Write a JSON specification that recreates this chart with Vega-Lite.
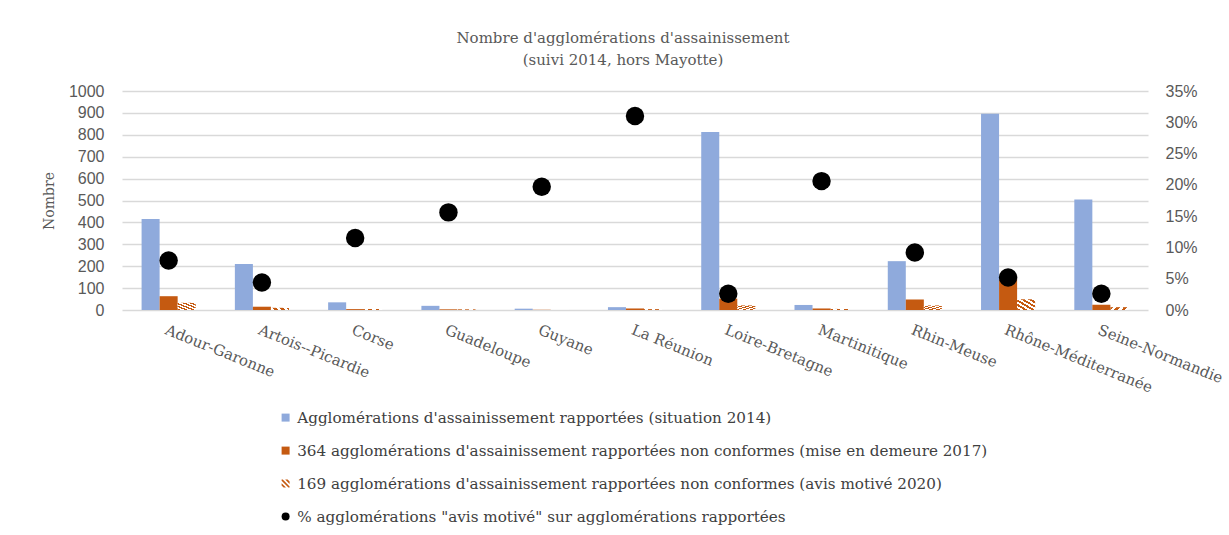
{
  "$schema": "https://vega.github.io/schema/vega-lite/v6.json",
  "width": 1026,
  "height": 219,
  "autosize": {"type": "none"},
  "padding": {"left": 122, "top": 91, "right": 81, "bottom": 225},
  "background": "white",
  "title": {
    "text": ["Nombre d'agglomérations d'assainissement", "(suivi 2014, hors Mayotte)"],
    "anchor": "middle",
    "frame": "group",
    "dx": -12,
    "offset": 15,
    "font": "DejaVu Serif",
    "fontSize": 15,
    "fontWeight": "normal",
    "color": "#595959",
    "lineHeight": 22
  },
  "datasets": {
    "bars": [
      {"region": "Adour-Garonne", "series": "Agglomérations d'assainissement rapportées (situation 2014)", "value": 415},
      {"region": "Adour-Garonne", "series": "364 agglomérations d'assainissement rapportées non conformes (mise en demeure 2017)", "value": 63},
      {"region": "Adour-Garonne", "series": "169 agglomérations d'assainissement rapportées non conformes (avis motivé 2020)", "value": 33},
      {"region": "Artois--Picardie", "series": "Agglomérations d'assainissement rapportées (situation 2014)", "value": 210},
      {"region": "Artois--Picardie", "series": "364 agglomérations d'assainissement rapportées non conformes (mise en demeure 2017)", "value": 15},
      {"region": "Artois--Picardie", "series": "169 agglomérations d'assainissement rapportées non conformes (avis motivé 2020)", "value": 10},
      {"region": "Corse", "series": "Agglomérations d'assainissement rapportées (situation 2014)", "value": 35},
      {"region": "Corse", "series": "364 agglomérations d'assainissement rapportées non conformes (mise en demeure 2017)", "value": 4},
      {"region": "Corse", "series": "169 agglomérations d'assainissement rapportées non conformes (avis motivé 2020)", "value": 4},
      {"region": "Guadeloupe", "series": "Agglomérations d'assainissement rapportées (situation 2014)", "value": 19},
      {"region": "Guadeloupe", "series": "364 agglomérations d'assainissement rapportées non conformes (mise en demeure 2017)", "value": 3},
      {"region": "Guadeloupe", "series": "169 agglomérations d'assainissement rapportées non conformes (avis motivé 2020)", "value": 3},
      {"region": "Guyane", "series": "Agglomérations d'assainissement rapportées (situation 2014)", "value": 6},
      {"region": "Guyane", "series": "364 agglomérations d'assainissement rapportées non conformes (mise en demeure 2017)", "value": 1},
      {"region": "Guyane", "series": "169 agglomérations d'assainissement rapportées non conformes (avis motivé 2020)", "value": 1},
      {"region": "La Réunion", "series": "Agglomérations d'assainissement rapportées (situation 2014)", "value": 13},
      {"region": "La Réunion", "series": "364 agglomérations d'assainissement rapportées non conformes (mise en demeure 2017)", "value": 7},
      {"region": "La Réunion", "series": "169 agglomérations d'assainissement rapportées non conformes (avis motivé 2020)", "value": 4},
      {"region": "Loire-Bretagne", "series": "Agglomérations d'assainissement rapportées (situation 2014)", "value": 813},
      {"region": "Loire-Bretagne", "series": "364 agglomérations d'assainissement rapportées non conformes (mise en demeure 2017)", "value": 52},
      {"region": "Loire-Bretagne", "series": "169 agglomérations d'assainissement rapportées non conformes (avis motivé 2020)", "value": 21},
      {"region": "Martinitique", "series": "Agglomérations d'assainissement rapportées (situation 2014)", "value": 23},
      {"region": "Martinitique", "series": "364 agglomérations d'assainissement rapportées non conformes (mise en demeure 2017)", "value": 7},
      {"region": "Martinitique", "series": "169 agglomérations d'assainissement rapportées non conformes (avis motivé 2020)", "value": 5},
      {"region": "Rhin-Meuse", "series": "Agglomérations d'assainissement rapportées (situation 2014)", "value": 223},
      {"region": "Rhin-Meuse", "series": "364 agglomérations d'assainissement rapportées non conformes (mise en demeure 2017)", "value": 48},
      {"region": "Rhin-Meuse", "series": "169 agglomérations d'assainissement rapportées non conformes (avis motivé 2020)", "value": 21},
      {"region": "Rhône-Méditerranée", "series": "Agglomérations d'assainissement rapportées (situation 2014)", "value": 896},
      {"region": "Rhône-Méditerranée", "series": "364 agglomérations d'assainissement rapportées non conformes (mise en demeure 2017)", "value": 140},
      {"region": "Rhône-Méditerranée", "series": "169 agglomérations d'assainissement rapportées non conformes (avis motivé 2020)", "value": 49},
      {"region": "Seine-Normandie", "series": "Agglomérations d'assainissement rapportées (situation 2014)", "value": 505},
      {"region": "Seine-Normandie", "series": "364 agglomérations d'assainissement rapportées non conformes (mise en demeure 2017)", "value": 24},
      {"region": "Seine-Normandie", "series": "169 agglomérations d'assainissement rapportées non conformes (avis motivé 2020)", "value": 13}
    ],
    "pcts": [
      {"region": "Adour-Garonne", "series": "% agglomérations \"avis motivé\" sur agglomérations rapportées", "pct": 0.079},
      {"region": "Artois--Picardie", "series": "% agglomérations \"avis motivé\" sur agglomérations rapportées", "pct": 0.044},
      {"region": "Corse", "series": "% agglomérations \"avis motivé\" sur agglomérations rapportées", "pct": 0.115},
      {"region": "Guadeloupe", "series": "% agglomérations \"avis motivé\" sur agglomérations rapportées", "pct": 0.156},
      {"region": "Guyane", "series": "% agglomérations \"avis motivé\" sur agglomérations rapportées", "pct": 0.197},
      {"region": "La Réunion", "series": "% agglomérations \"avis motivé\" sur agglomérations rapportées", "pct": 0.31},
      {"region": "Loire-Bretagne", "series": "% agglomérations \"avis motivé\" sur agglomérations rapportées", "pct": 0.026},
      {"region": "Martinitique", "series": "% agglomérations \"avis motivé\" sur agglomérations rapportées", "pct": 0.206},
      {"region": "Rhin-Meuse", "series": "% agglomérations \"avis motivé\" sur agglomérations rapportées", "pct": 0.092},
      {"region": "Rhône-Méditerranée", "series": "% agglomérations \"avis motivé\" sur agglomérations rapportées", "pct": 0.052},
      {"region": "Seine-Normandie", "series": "% agglomérations \"avis motivé\" sur agglomérations rapportées", "pct": 0.026}
    ]
  },
  "layer": [
    {
      "data": {"name": "bars"},
      "transform": [{"filter": "indexof(datum.series, '169') !== 0"}],
      "mark": {"type": "bar"},
      "encoding": {
        "x": {
          "field": "region", "type": "nominal", "sort": null,
          "scale": {"paddingInner": 0.42, "paddingOuter": 0.21},
          "axis": {
            "title": null, "labelAngle": 22, "labelAlign": "left", "labelBaseline": "top",
            "labelPadding": 12, "ticks": false, "domain": false,
            "labelFont": "DejaVu Serif", "labelFontSize": 15, "labelColor": "#595959"
          }
        },
        "xOffset": {
          "field": "series", "type": "nominal",
          "scale": {
            "domain": [
              "Agglomérations d'assainissement rapportées (situation 2014)",
              "364 agglomérations d'assainissement rapportées non conformes (mise en demeure 2017)",
              "169 agglomérations d'assainissement rapportées non conformes (avis motivé 2020)"
            ],
            "paddingInner": 0, "paddingOuter": 0
          }
        },
        "y": {
          "field": "value", "type": "quantitative",
          "scale": {"domain": [0, 1000], "nice": false},
          "axis": {
            "title": "Nombre", "values": [0, 100, 200, 300, 400, 500, 600, 700, 800, 900, 1000],
            "format": "d",
            "grid": true, "gridColor": "#d9d9d9", "gridWidth": 1.5, "domain": false, "ticks": false,
            "labelPadding": 18, "labelFont": "Liberation Sans", "labelFontSize": 16, "labelColor": "#595959",
            "titleFont": "DejaVu Serif", "titleFontSize": 14, "titleFontWeight": "normal",
            "titleColor": "#595959", "titlePadding": 12
          }
        },
        "color": {
          "field": "series", "type": "nominal",
          "scale": {
            "domain": [
              "Agglomérations d'assainissement rapportées (situation 2014)",
              "364 agglomérations d'assainissement rapportées non conformes (mise en demeure 2017)",
              "169 agglomérations d'assainissement rapportées non conformes (avis motivé 2020)",
              "% agglomérations \"avis motivé\" sur agglomérations rapportées"
            ],
            "range": ["#8faadc", "#c55a11", "#c55a11", "#000000"]
          },
          "legend": {
            "title": null, "orient": "none", "legendX": 156, "legendY": 319, "direction": "vertical",
            "labelFont": "DejaVu Serif", "labelFontSize": 15.2, "labelColor": "#404040",
            "symbolSize": 64, "symbolOpacity": 1, "rowPadding": 17, "labelOffset": 4, "labelLimit": 900
          }
        }
      }
    },
    {
      "data": {"name": "bars"},
      "transform": [{"filter": "indexof(datum.series, '169') === 0"}],
      "mark": {
        "type": "bar",
        "color": {
          "gradient": "linear", "x1": 0, "y1": 1, "x2": 1, "y2": 0,
          "stops": [
            {"offset": 0, "color": "#c55a11"}, {"offset": 0.1, "color": "#c55a11"},
            {"offset": 0.1, "color": "#ffffff"}, {"offset": 0.2, "color": "#ffffff"},
            {"offset": 0.2, "color": "#c55a11"}, {"offset": 0.3, "color": "#c55a11"},
            {"offset": 0.3, "color": "#ffffff"}, {"offset": 0.4, "color": "#ffffff"},
            {"offset": 0.4, "color": "#c55a11"}, {"offset": 0.5, "color": "#c55a11"},
            {"offset": 0.5, "color": "#ffffff"}, {"offset": 0.6, "color": "#ffffff"},
            {"offset": 0.6, "color": "#c55a11"}, {"offset": 0.7, "color": "#c55a11"},
            {"offset": 0.7, "color": "#ffffff"}, {"offset": 0.8, "color": "#ffffff"},
            {"offset": 0.8, "color": "#c55a11"}, {"offset": 0.9, "color": "#c55a11"},
            {"offset": 0.9, "color": "#ffffff"}, {"offset": 1, "color": "#ffffff"}
          ]
        }
      },
      "encoding": {
        "x": {"field": "region", "type": "nominal", "sort": null},
        "xOffset": {"field": "series", "type": "nominal"},
        "y": {
          "field": "value", "type": "quantitative",
          "scale": {"domain": [0, 1000], "nice": false},
          "axis": null
        }
      }
    },
    {
      "data": {"name": "pcts"},
      "mark": {"type": "point", "filled": true, "size": 340, "opacity": 1},
      "encoding": {
        "x": {"field": "region", "type": "nominal", "sort": null},
        "y": {
          "field": "pct", "type": "quantitative",
          "scale": {"domain": [0, 0.35], "nice": false},
          "axis": {
            "orient": "right", "title": null, "format": ".0%",
            "values": [0, 0.05, 0.1, 0.15, 0.2, 0.25, 0.3, 0.35],
            "grid": false, "domain": false, "ticks": false, "labelPadding": 17,
            "labelFont": "Liberation Sans", "labelFontSize": 16, "labelColor": "#595959"
          }
        },
        "color": {"field": "series", "type": "nominal"},
        "shape": {
          "field": "series", "type": "nominal",
          "scale": {
            "domain": [
              "Agglomérations d'assainissement rapportées (situation 2014)",
              "364 agglomérations d'assainissement rapportées non conformes (mise en demeure 2017)",
              "169 agglomérations d'assainissement rapportées non conformes (avis motivé 2020)",
              "% agglomérations \"avis motivé\" sur agglomérations rapportées"
            ],
            "range": [
              "square",
              "square",
              "M-1,-1L-0.7,-1L1,0.7L1,1L0.7,1L-1,-0.7Z M-0.1,-1L0.5,-1L1,-0.5L1,0.1Z M-1,-0.1L0.1,1L-0.5,1L-1,0.5Z",
              "circle"
            ]
          },
          "legend": {
            "title": null, "orient": "none", "legendX": 156, "legendY": 319, "direction": "vertical",
            "labelFont": "DejaVu Serif", "labelFontSize": 15.2, "labelColor": "#404040",
            "symbolSize": 64, "symbolOpacity": 1, "rowPadding": 17, "labelOffset": 4, "labelLimit": 900
          }
        }
      }
    }
  ],
  "resolve": {"scale": {"y": "independent"}},
  "config": {"view": {"stroke": null}}
}
